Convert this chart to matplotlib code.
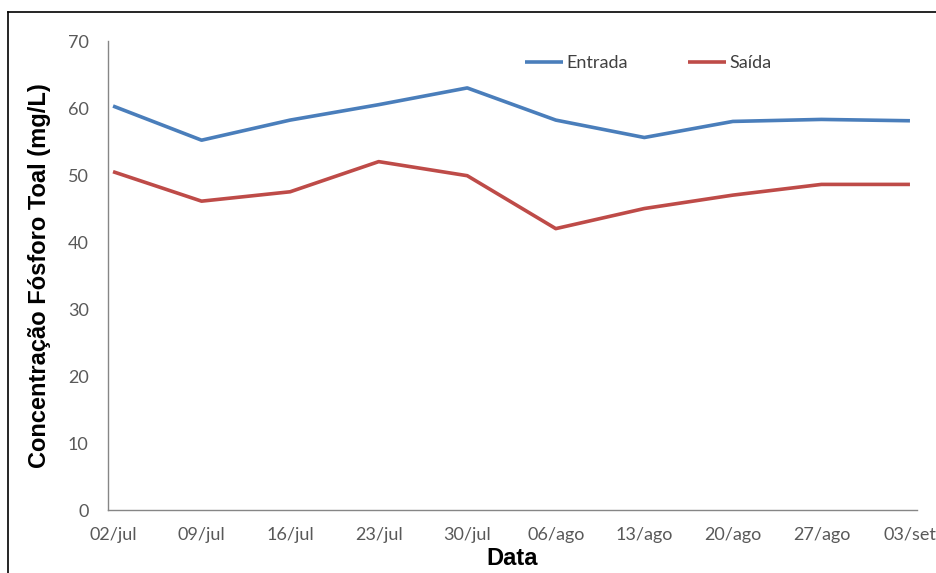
import matplotlib
matplotlib.use("Agg")
import matplotlib.pyplot as plt
from matplotlib.lines import Line2D

# data
datas = ["02/jul", "09/jul", "16/jul", "23/jul", "30/jul",
         "06/ago", "13/ago", "20/ago", "27/ago", "03/set"]
entrada = [60.3, 55.2, 58.2, 60.5, 63.0, 58.2, 55.6, 58.0, 58.3, 58.1]
saida = [50.5, 46.1, 47.5, 52.0, 49.9, 42.0, 45.0, 47.0, 48.6, 48.6]

tick_color = "#595959"
axis_color = "#868686"

fig = plt.figure(figsize=(9.37, 5.73), dpi=100)
ax = fig.add_axes([0.1153, 0.1099, 0.8634, 0.8185])

x = list(range(len(datas)))
ax.plot(x, entrada, color="#4A7EBB", lw=2.6, label="Entrada", solid_capstyle="butt")
ax.plot(x, saida, color="#BE4B48", lw=2.6, label="Saída", solid_capstyle="butt")

ax.set_xlim(-0.0565, 9.08)
ax.set_ylim(0, 70)
ax.set_yticks(range(0, 71, 10))
ax.set_xticks(x)
ax.set_xticklabels(datas)

for s in ["top", "right"]:
    ax.spines[s].set_visible(False)
for s in ["left", "bottom"]:
    ax.spines[s].set_color(axis_color)
    ax.spines[s].set_linewidth(1.0)

ax.tick_params(axis="both", length=0, colors=tick_color, labelsize=13)
ax.tick_params(axis="y", pad=14)
ax.tick_params(axis="x", pad=12)
for lab in ax.get_xticklabels() + ax.get_yticklabels():
    lab.set_fontfamily("Lato")

ax.set_ylabel("Concentração Fósforo Toal (mg/L)", fontsize=17, fontweight="bold",
              family="Liberation Sans", labelpad=12)
ax.set_xlabel("Data", fontsize=17, fontweight="bold", family="Liberation Sans",
              labelpad=3)

leg = ax.legend(loc="center", bbox_to_anchor=(0.668, 0.953), ncol=2, frameon=False,
                handlelength=2.1, handletextpad=0.2, columnspacing=3.3,
                prop={"family": "Lato", "size": 13})
for t in leg.get_texts():
    t.set_color("#404040")

# outer frame of the original image (only top and left edges show)
fig.add_artist(Line2D([8 / 937, 8 / 937], [0, 1 - 12 / 573], color="black", lw=1.2,
                      transform=fig.transFigure))
fig.add_artist(Line2D([8 / 937, 1], [1 - 12 / 573, 1 - 12 / 573], color="black", lw=1.2,
                      transform=fig.transFigure))

fig.savefig("out.png", dpi=100)
